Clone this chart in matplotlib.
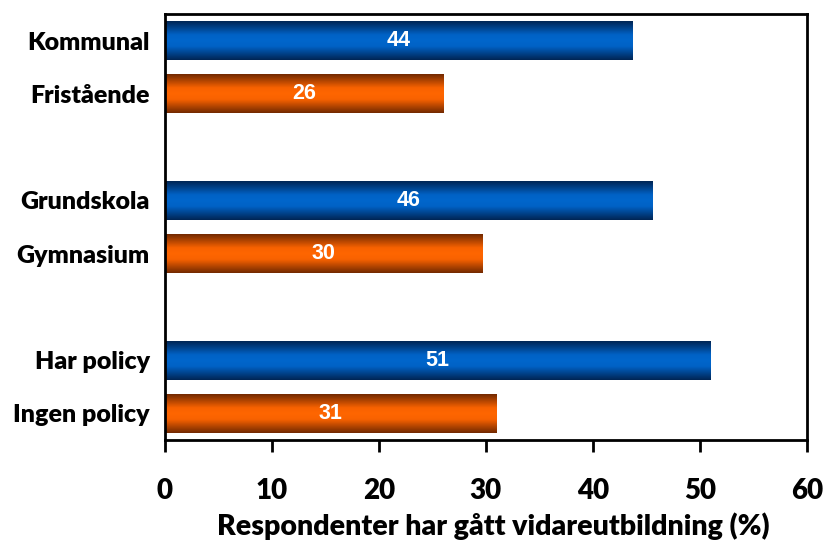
import numpy as np
import matplotlib.pyplot as plt
from matplotlib.colors import LinearSegmentedColormap

# data
categories = ["Kommunal", "Fristående", "Grundskola", "Gymnasium", "Har policy", "Ingen policy"]
values = [43.7, 26.0, 45.6, 29.7, 51.0, 31.0]
labels = ["44", "26", "46", "30", "51", "31"]
positions = [0, 1, 3, 4, 6, 7]
xticks = [0, 10, 20, 30, 40, 50, 60]
xlabel = "Respondenter har gått vidareutbildning (%)"

blue_map = LinearSegmentedColormap.from_list(
    "blue_bar", [(0, "#002656"), (0.35, "#0062c6"), (0.5, "#0066cc"), (0.65, "#0062c6"), (1, "#002656")])
orange_map = LinearSegmentedColormap.from_list(
    "orange_bar", [(0, "#742a00"), (0.35, "#f86200"), (0.5, "#ff6600"), (0.65, "#f86200"), (1, "#742a00")])
bar_maps = [blue_map, orange_map] * 3

label_font = "Lato"
value_font = "Liberation Sans"
bar_h = 0.73

fig = plt.figure(figsize=(8.24, 5.49), dpi=100)
ax = fig.add_axes([0.2002, 0.1985, 0.7788, 0.776])

grad = np.linspace(0, 1, 64).reshape(-1, 1)
for pos, val, cmap, lab in zip(positions, values, bar_maps, labels):
    ax.imshow(grad, extent=[0, val, pos + bar_h / 2, pos - bar_h / 2],
              aspect="auto", cmap=cmap, interpolation="bilinear", zorder=2)
    ax.text(val / 2, pos, lab, ha="center", va="center", color="white",
            fontsize=15.5, fontweight="bold", family=value_font, zorder=3)

ax.set_xlim(0, 60)
ax.set_ylim(7.5, -0.5)

ax.set_yticks(positions)
ax.set_yticklabels(categories, fontsize=18, fontweight="heavy", family=label_font)
ax.tick_params(axis="y", length=0, pad=11)

ax.set_xticks(xticks)
ax.set_xticklabels([str(t) for t in xticks], fontsize=20, fontweight="heavy", family=label_font)
ax.tick_params(axis="x", direction="out", length=8.5, width=2, pad=19)
ax.set_xlabel(xlabel, fontsize=20.5, fontweight="heavy", family=label_font, labelpad=6)
ax.xaxis.label.set_x(0.512)

for side in ["left", "right", "top", "bottom"]:
    ax.spines[side].set_linewidth(2)
    ax.spines[side].set_color("black")

plt.savefig("out.png", dpi=100)
plt.close()
